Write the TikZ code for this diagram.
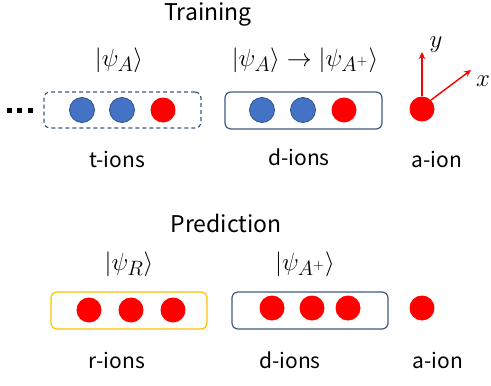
\documentclass[tikz,border=0pt]{standalone}
\usepackage{fontspec}
\newfontfamily\lblfont{Noto Sans CJK JP}
\usetikzlibrary{arrows.meta}
\definecolor{ionred}{HTML}{FF0000}
\definecolor{ionblue}{HTML}{4472C4}
\definecolor{ionbluedark}{HTML}{2F528F}
\definecolor{boxblue}{HTML}{3E5B80}
\definecolor{boxyellow}{HTML}{FFC000}
\begin{document}
\begin{tikzpicture}[x=1pt,y=-1pt,
  ion/.style={circle,minimum size=25pt,inner sep=0pt},
  redion/.style={ion,fill=ionred},
  blueion/.style={ion,fill=ionblue,draw=ionbluedark,line width=0.8pt},
  ionbox/.style={draw=boxblue,line width=1.2pt,rounded corners=6pt,inner sep=0pt},
  lbl/.style={font=\lblfont\fontsize{21}{25}\selectfont,inner sep=0pt},
  ket/.style={font=\fontsize{28}{32}\selectfont,inner sep=0pt},
  axlab/.style={font=\fontsize{30}{34}\selectfont,inner sep=0pt},
  ttl/.style={font=\lblfont\fontsize{23}{27}\selectfont,inner sep=0pt,anchor=base},
  axisarrow/.style={draw=ionred,line width=1.4pt,-{Stealth[length=7pt,width=6.5pt]}}
]
\useasboundingbox (0,0) rectangle (491,386);

% ---------- Training ----------
\node[ttl] (training) at (208,20) {Training};

\node[ionbox,dashed,dash pattern=on 4pt off 3pt,minimum width=157pt,minimum height=36pt] (tbox) at (122.5,110) {};
\node[blueion] (t1) at (82,110) {};
\node[blueion] (t2) at (122,110) {};
\node[redion] (t3) at (163,110) {};
\fill (7,108) rectangle (12,113);
\fill (17,108) rectangle (22,113);
\fill (28,108) rectangle (33,113);
\node[ket] (ketA) at (119,60) {$|\psi_A\rangle$};
\node[lbl] (tions) at (117,159) {t-ions};

\node[ionbox,minimum width=157pt,minimum height=37pt] (dbox) at (303.5,110.5) {};
\node[blueion] (d1) at (262,110) {};
\node[blueion] (d2) at (303,110) {};
\node[redion] (d3) at (344,110) {};
\node[ket] (ketAA) at (305,60) {$|\psi_A\rangle \rightarrow |\psi_{A^+}\rangle$};
\node[lbl] (dions) at (299,157) {d-ions};

\node[redion] (aion) at (422,109) {};
\coordinate (ytip) at (422,52);
\coordinate (xtip) at (471,70);
\draw[axisarrow] (aion.north) -- (ytip);
\draw[axisarrow] (aion.north east) -- (xtip);
\node[axlab] (ylab) at (436,45) {$y$};
\node[axlab] (xlab) at (483,81) {$x$};
\node[lbl] (aionlab) at (437,159) {a-ion};

% ---------- Prediction ----------
\node[ttl] (prediction) at (226,232) {Prediction};

\node[ionbox,draw=boxyellow,minimum width=156pt,minimum height=37pt] (rbox) at (129,310.5) {};
\node[redion] (r1) at (89,310) {};
\node[redion] (r2) at (131,310) {};
\node[redion] (r3) at (173,310) {};
\node[ket] (ketR) at (129,264) {$|\psi_R\rangle$};
\node[lbl] (rions) at (117,360) {r-ions};

\node[ionbox,minimum width=156pt,minimum height=37pt] (dbox2) at (310,310.5) {};
\node[redion] (e1) at (272,308) {};
\node[redion] (e2) at (312,308) {};
\node[redion] (e3) at (348,308) {};
\node[ket] (ketAp) at (305,264) {$|\psi_{A^+}\rangle$};
\node[lbl] (dions2) at (290,360) {d-ions};

\node[redion] (aion2) at (422,308) {};
\node[lbl] (aionlab2) at (438,360) {a-ion};
\end{tikzpicture}
\end{document}
